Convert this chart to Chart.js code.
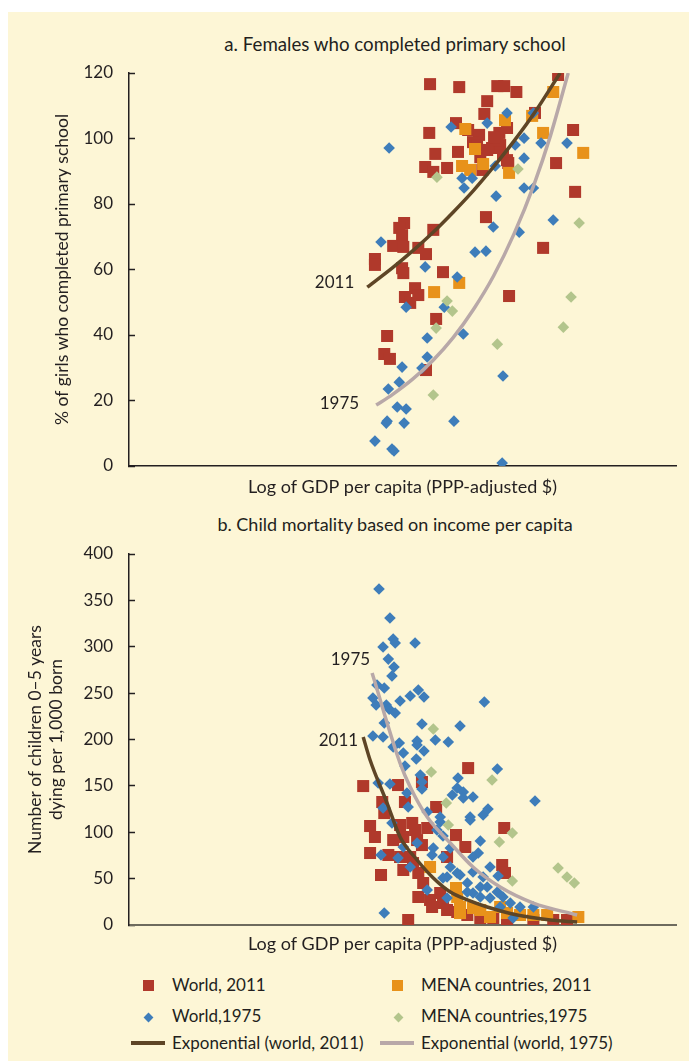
<!DOCTYPE html>
<html>
<head>
<meta charset="utf-8">
<script src="https://cdn.jsdelivr.net/npm/chart.js@4.4.0/dist/chart.umd.min.js"></script>
<style>
  body { margin:0; background:#fff; width:689px; height:1061px; position:relative; overflow:hidden; font-family:Lato, sans-serif; color:#231f20; }
  #bg { position:absolute; left:8px; top:12px; right:0; bottom:0; background:#fdf6d6; }
  .ttl { position:absolute; left:145px; width:500px; text-align:center; font-size:18px; line-height:20px; }
  canvas { position:absolute; left:0; }
  .lg { position:absolute; font-size:17px; line-height:20px; white-space:nowrap; }
  .sq { position:absolute; width:11px; height:11px; }
  .dm { position:absolute; width:7px; height:7px; transform:rotate(45deg); }
  .ln { position:absolute; width:34px; height:3.5px; }
</style>
</head>
<body>
<div id="bg"></div>
<div class="ttl" style="top:34px;font-size:18.7px">a. Females who completed primary school</div>
<div class="ttl" style="top:514px">b. Child mortality based on income per capita</div>
<canvas id="chartA" width="689" height="500" style="top:0"></canvas>
<canvas id="chartB" width="689" height="460" style="top:500px"></canvas>

<div class="sq" style="left:143px;top:980px;background:#b0392b"></div>
<div class="lg" style="left:172px;top:975px">World, 2011</div>
<div class="sq" style="left:392px;top:980px;background:#e8921a"></div>
<div class="lg" style="left:421px;top:975px">MENA countries, 2011</div>
<div class="dm" style="left:144.5px;top:1013.5px;background:#3e7dba"></div>
<div class="lg" style="left:172px;top:1006px">World,1975</div>
<div class="dm" style="left:394.5px;top:1013.5px;background:#b3c58c"></div>
<div class="lg" style="left:421px;top:1006px">MENA countries,1975</div>
<div class="ln" style="left:131px;top:1041px;background:#5e4526"></div>
<div class="lg" style="left:172px;top:1033px">Exponential (world, 2011)</div>
<div class="ln" style="left:380px;top:1041px;background:#b8a8a8"></div>
<div class="lg" style="left:421px;top:1033px">Exponential (world, 1975)</div>

<script>
const ink = '#231f20'
const fam = 'Lato, sans-serif'
Chart.defaults.font.family = fam

// x = log of GDP per capita, y = share / deaths
// panel a: females who completed primary school (%)
const aWorld2011 = [[7.43,116.6],[8.15,115.7],[9.09,116.0],[9.26,116.0],[9.56,114.2],[10.59,119.4],[8.84,111.4],[8.77,107.5],[8.07,104.7],[7.41,101.7],[8.37,102.6],[8.64,101.1],[9.14,101.7],[9.33,103.2],[10.02,107.8],[10.96,102.6],[7.56,95.3],[8.12,95.9],[8.49,98.9],[8.96,97.1],[9.16,98.0],[8.67,94.3],[9.33,93.4],[7.31,91.3],[7.51,89.8],[7.85,91.0],[8.72,90.4],[10.54,92.5],[11.01,83.7],[8.81,76.0],[7.51,72.1],[6.79,74.2],[6.67,72.7],[6.74,70.5],[6.52,67.2],[6.77,66.9],[7.14,66.6],[7.33,64.7],[6.07,63.2],[10.22,66.6],[9.09,99.5],[9.23,94.9],[9.36,92.5],[8.59,98.0],[8.84,96.5],[9.01,100.4],[6.07,61.4],[6.74,60.4],[6.77,58.9],[7.75,59.2],[7.06,54.3],[6.81,51.6],[7.14,52.2],[6.94,49.8],[7.58,44.9],[6.37,39.7],[6.30,34.2],[6.44,32.7],[7.33,29.3],[9.38,51.9]]
const aMena2011 = [[10.47,114.2],[9.95,106.9],[9.28,105.6],[8.30,102.9],[10.22,101.7],[8.54,96.8],[11.21,95.6],[8.22,91.6],[8.42,90.4],[8.74,92.2],[9.38,89.5],[7.53,53.1],[8.15,55.9]]
const aWorld1975 = [[9.33,107.8],[9.98,107.8],[8.84,104.7],[7.95,103.5],[6.42,97.1],[9.75,100.1],[9.53,98.0],[10.17,98.6],[10.81,98.6],[9.75,94.0],[9.04,91.6],[8.22,87.9],[8.47,87.9],[8.27,84.9],[9.75,84.9],[9.98,84.9],[9.06,82.4],[8.99,73.0],[9.63,71.4],[10.47,75.1],[6.22,68.4],[8.54,65.3],[8.81,65.6],[7.31,60.8],[8.10,57.7],[6.84,48.5],[7.78,48.5],[7.36,39.1],[8.25,40.3],[7.36,33.3],[6.74,30.2],[7.23,29.9],[6.67,25.6],[6.40,23.5],[9.23,27.5],[6.62,18.0],[6.84,17.4],[6.37,13.7],[6.35,13.1],[6.79,13.1],[8.02,13.7],[6.07,7.6],[6.49,5.2],[6.54,4.6],[9.21,0.9]]
const aMena1975 = [[9.60,90.7],[7.60,88.2],[11.11,74.2],[7.85,50.4],[7.98,47.3],[7.58,42.1],[10.91,51.6],[10.72,42.4],[9.09,37.2],[7.51,21.7]]
const aTrend2011 = [[5.88,54.6],[6.5,60.5],[7.0,65.7],[7.5,71.3],[8.0,77.5],[8.5,84.1],[9.0,91.4],[9.5,99.2],[10.0,107.7],[10.64,120]]
const aTrend1975 = [[6.1,18.6],[6.5,21.8],[7.0,26.5],[7.5,32.2],[8.0,39.2],[8.5,47.8],[9.0,58.1],[9.5,70.8],[10.0,86.1],[10.4,100.8],[10.84,120]]

// panel b: child deaths (0-5 years) per 1,000 born
const bWorld2011 = [[8.37,169.2],[5.78,149.8],[6.64,150.9],[7.23,154.2],[6.25,132.6],[6.81,132.6],[6.30,120.7],[7.58,127.2],[5.95,106.7],[6.07,94.9],[6.69,107.8],[6.99,110.0],[7.06,102.4],[7.36,104.6],[6.77,94.9],[7.11,91.6],[8.07,97.0],[9.26,104.6],[5.95,77.6],[6.40,75.5],[6.69,73.3],[6.94,73.3],[7.23,86.2],[7.85,73.3],[8.30,84.1],[6.22,53.9],[6.77,59.3],[7.14,56.1],[9.21,64.7],[9.28,56.1],[7.26,45.3],[7.14,30.2],[7.43,27.0],[7.75,23.7],[7.85,16.2],[8.10,14.0],[8.35,10.8],[8.67,7.5],[8.99,7.5],[9.33,5.4],[9.98,5.4],[10.47,5.4],[10.81,5.4],[6.89,5.4],[7.48,19.4],[7.68,34.5],[7.01,66.8],[6.52,91.6]]
const bMena2011 = [[7.43,62.5],[8.07,39.9],[8.10,30.2],[8.17,19.4],[8.49,18.3],[8.67,16.2],[9.16,19.4],[9.33,12.9],[9.65,10.8],[9.98,10.8],[10.32,10.8],[11.09,8.6],[8.17,12.9],[8.91,8.6]]
const bWorld1975 = [[6.17,362.2],[6.44,331.0],[6.52,308.3],[6.57,304.0],[6.27,299.7],[7.06,304.0],[6.40,286.7],[6.54,278.1],[6.49,268.4],[6.12,258.7],[6.30,255.5],[6.02,244.7],[6.10,237.2],[6.35,237.2],[6.42,232.8],[6.57,228.5],[6.69,241.5],[6.94,246.9],[7.14,253.3],[7.28,245.8],[8.77,240.4],[6.30,217.8],[6.02,203.7],[6.27,202.7],[7.23,216.7],[8.17,214.5],[6.52,191.9],[6.67,196.2],[7.11,198.4],[7.11,194.0],[7.56,199.4],[7.88,197.3],[6.77,185.4],[7.28,187.6],[7.09,178.9],[6.81,171.4],[9.09,168.2],[7.19,161.7],[7.23,154.2],[7.23,146.6],[6.44,152.0],[6.15,153.1],[8.12,158.5],[8.10,147.7],[7.98,140.1],[8.25,143.4],[8.25,136.9],[8.49,138.0],[10.02,133.7],[6.86,142.3],[6.89,127.2],[7.36,121.8],[6.27,126.1],[7.68,116.4],[7.68,111.0],[8.42,116.4],[8.42,113.2],[8.74,118.6],[8.86,125.0],[6.49,110.0],[7.60,102.4],[7.75,95.9],[8.67,90.6],[6.77,84.1],[7.11,88.4],[7.51,83.0],[7.93,83.0],[7.48,75.5],[7.75,73.3],[8.62,77.6],[8.49,73.3],[6.22,75.5],[6.64,72.2],[6.94,62.5],[8.91,62.5],[9.11,52.8],[7.93,62.5],[7.85,51.7],[8.10,56.1],[8.49,57.1],[8.17,53.9],[7.75,50.7],[8.35,45.3],[8.74,51.7],[8.67,41.0],[8.84,41.0],[9.09,35.6],[8.49,34.5],[7.36,37.7],[8.67,30.2],[8.91,29.1],[9.23,30.2],[7.85,29.1],[9.16,19.4],[9.41,23.7],[9.65,19.4],[9.98,19.4],[9.48,7.5],[6.30,12.9],[8.35,35.6]]
const bMena1975 = [[7.51,211.3],[7.46,164.9],[8.96,156.3],[7.83,131.5],[7.88,107.8],[9.14,89.5],[9.46,99.2],[9.46,47.4],[10.59,61.4],[10.81,51.7],[10.99,45.3]]
const bTrend2011 = [[5.78,202.7],[5.95,177.9],[6.37,131.5],[6.69,94.9],[7.11,70.1],[7.51,50.7],[7.93,35.6],[8.35,27.0],[8.84,19.4],[9.58,10.8],[10.40,5.4],[11.06,3.2]]
const bTrend1975 = [[6.0,271.7],[6.69,174.6],[6.94,148.8],[7.36,116.4],[7.93,88.4],[8.49,62.5],[9.16,41.0],[9.98,23.7],[11.06,10.8]]

const xTitle = 'Log of GDP per capita (PPP-adjusted $)'

const pts = arr => arr.map(p => ({x: p[0], y: p[1]}))

// scritta "2011"/"1975" all'inizio di ogni curva
const trendLabels = {
  id: 'trendLabels',
  afterDatasetsDraw(chart) {
    const { ctx } = chart
    chart.data.datasets.forEach((ds, i) => {
      if (!ds.tag) return
      const p = chart.getDatasetMeta(i).data[0]
      ctx.save()
      ctx.font = '17px ' + fam
      ctx.fillStyle = ink
      ctx.textAlign = 'right'
      ctx.textBaseline = 'middle'
      ctx.fillText(ds.tag, p.x + ds.tagDx, p.y + ds.tagDy)
      ctx.restore()
    })
  },
}

function scatterSets(w11, m11, w75, m75) {
  return [
    { label: 'World, 2011', data: pts(w11), pointStyle: 'rect', pointRadius: 8.5, backgroundColor: '#b0392b', borderWidth: 0, order: 5 },
    { label: 'MENA countries, 2011', data: pts(m11), pointStyle: 'rect', pointRadius: 8.5, backgroundColor: '#e8921a', borderWidth: 0, order: 4 },
    { label: 'World,1975', data: pts(w75), pointStyle: 'rectRot', pointRadius: 5.8, backgroundColor: '#3e7dba', borderWidth: 0, order: 3 },
    { label: 'MENA countries,1975', data: pts(m75), pointStyle: 'rectRot', pointRadius: 5.8, backgroundColor: '#b3c58c', borderWidth: 0, order: 2 },
  ]
}

function trendSet(label, arr, color, tag, dx, dy) {
  return { label, data: pts(arr), showLine: true, pointRadius: 0, borderColor: color, borderWidth: 3.5,
    cubicInterpolationMode: 'monotone', order: 1, tag, tagDx: dx, tagDy: dy }
}

function makeChart(id, sets, yMax, yStep, yTitle, yTitlePad, yLine, xH, xPad, bottomColor, bottomW, top) {
  return new Chart(document.getElementById(id), {
    type: 'scatter',
    data: { datasets: sets },
    plugins: [trendLabels],
    options: {
      responsive: false,
      animation: false,
      events: [],
      layout: { padding: { left: 0, right: 13, top: top, bottom: 0 } },
      plugins: { legend: { display: false }, tooltip: { enabled: false } },
      scales: {
        x: {
          type: 'linear', min: 0, max: 13.5,
          ticks: { display: false },
          grid: { display: false },
          border: { display: true, color: bottomColor, width: bottomW },
          title: { display: true, text: xTitle, color: ink, font: { size: 18, lineHeight: 1.2 }, padding: { top: 0, bottom: xPad } },
          afterFit(s) { s.height = xH },
        },
        y: {
          min: 0, max: yMax,
          ticks: { stepSize: yStep, color: ink, font: { size: 17 }, padding: 22 },
          grid: { drawOnChartArea: false, tickLength: -6, tickColor: ink, tickWidth: 1.5 },
          border: { display: true, color: ink, width: 1.5 },
          title: { display: true, text: yTitle, color: ink, font: { size: 17.5, lineHeight: yLine }, padding: { top: yTitlePad, bottom: 0 } },
          afterFit(s) { s.width = 129 },
        },
      },
    },
  })
}

makeChart('chartA',
  [trendSet('Exponential (world, 2011)', aTrend2011, '#5e4526', '2011', -13, -5),
   trendSet('Exponential (world, 1975)', aTrend1975, '#b8a8a8', '1975', -17, -2)]
    .concat(scatterSets(aWorld2011, aMena2011, aWorld1975, aMena1975)),
  120, 20, '% of girls who completed primary school', 52, 1.2, 34, 2, ink, 1.5, 73)

makeChart('chartB',
  [trendSet('Exponential (world, 2011)', bTrend2011, '#5e4526', '2011', -5, 4),
   trendSet('Exponential (world, 1975)', bTrend1975, '#b8a8a8', '1975', -2, -13)]
    .concat(scatterSets(bWorld2011, bMena2011, bWorld1975, bMena1975)),
  400, 50, ['Number of children 0\u20135 years', 'dying per 1,000 born'], 24.5, 1.2, 35, 5, '#6e6b5e', 2, 54)
</script>
</body>
</html>
